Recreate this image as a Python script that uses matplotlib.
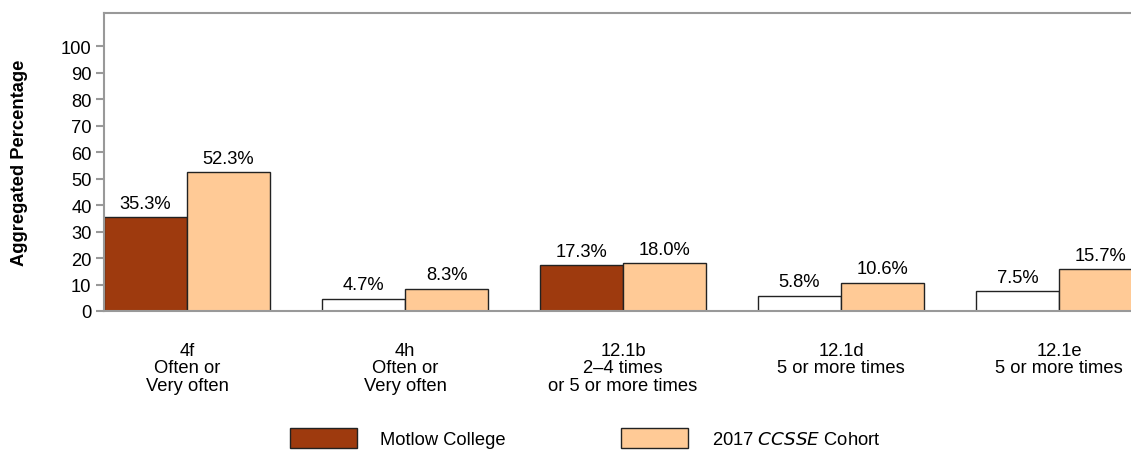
import numpy as np
import matplotlib.pyplot as plt
from matplotlib.patches import Patch

plt.rcParams['font.family'] = ['Liberation Sans', 'DejaVu Sans']
plt.rcParams['font.size'] = 13.2

categories = ["4f\nOften or\nVery often", "4h\nOften or\nVery often",
              "12.1b\n2\u20134 times\nor 5 or more times",
              "12.1d\n5 or more times", "12.1e\n5 or more times"]
college = [35.3, 4.7, 17.3, 5.8, 7.5]
cohort = [52.3, 8.3, 18.0, 10.6, 15.7]
college_filled = [True, False, True, False, False]
series_names = ["Motlow College", "2017 $\\it{CCSSE}$ Cohort"]

brown = '#9E3A0E'
peach = '#FFCA96'
grey = '#999999'

fig = plt.figure(figsize=(11.31, 4.52), dpi=100)
ax = fig.add_axes([104/1131, (452-312)/452, 1-104/1131, (312-14)/452])

x = np.arange(len(categories))
w = 0.381
cols = [brown if f else 'white' for f in college_filled]
b1 = ax.bar(x - w/2, college, w, color=cols, edgecolor='#222222', linewidth=1)
b2 = ax.bar(x + w/2, cohort, w, color=peach, edgecolor='#222222', linewidth=1)

for bars, vals in ((b1, college), (b2, cohort)):
    for r, v in zip(bars, vals):
        ax.annotate(f"{v:.1f}%", (r.get_x() + r.get_width()/2, v),
                    xytext=(0, 4), textcoords='offset points',
                    ha='center', va='bottom')

ax.set_xlim(-0.381, 4.33)
ax.set_ylim(0, 112.5)
ax.set_yticks(range(0, 101, 10))
ax.set_xticks(x)
ax.set_xticklabels(categories, linespacing=1.05)
ax.tick_params(axis='x', length=0, pad=22)
ax.tick_params(axis='y', length=6, color=grey, width=1.5, pad=3)
for s in ('left', 'top', 'bottom'):
    ax.spines[s].set_color(grey)
    ax.spines[s].set_linewidth(1.5)
ax.spines['right'].set_visible(False)

ax.set_ylabel("Aggregated Percentage", fontweight='bold')
ax.yaxis.set_label_coords(-0.074, 0.5)

handles = [Patch(facecolor=brown, edgecolor='#222222'),
           Patch(facecolor=peach, edgecolor='#222222')]
fig.legend(handles, series_names, loc='center left',
           bbox_to_anchor=(290/1131, 1-439/452), ncol=2, frameon=False,
           handlelength=3.66, handleheight=1.37, handletextpad=1.26,
           columnspacing=6.3, borderpad=0, borderaxespad=0)

fig.savefig('out.png', dpi=100)
